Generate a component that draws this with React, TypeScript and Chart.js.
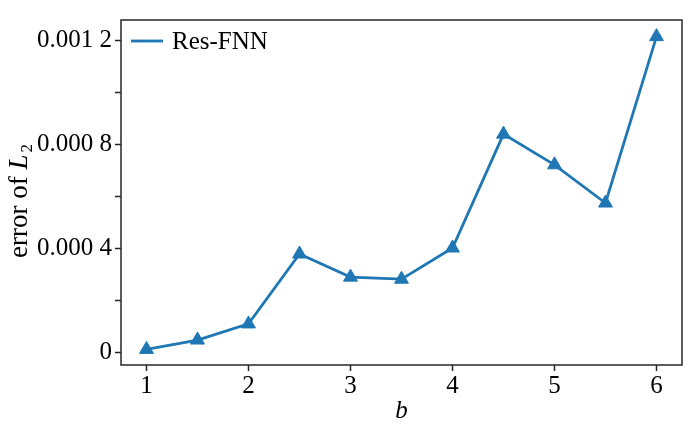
import { useEffect, useRef } from "react";
import Chart from "chart.js/auto";

const bValues = [1, 1.5, 2, 2.5, 3, 3.5, 4, 4.5, 5, 5.5, 6];
const resFnnError = [
  0.00001, 0.000046, 0.000108, 0.000377, 0.000288, 0.00028, 0.0004, 0.000838,
  0.00072, 0.000573, 0.001213,
];

const xTickValues = [1, 2, 3, 4, 5, 6];
const xTickLabels = ["1", "2", "3", "4", "5", "6"];
const yTickValues = [0, 0.0002, 0.0004, 0.0006, 0.0008, 0.001, 0.0012];
const yTickLabels = ["0", "", "0.000 4", "", "0.000 8", "", "0.001 2"];

const seriesLabel = "Res-FNN";
const BLUE = "#1f77b4";
const INK = "#262626";
const FONT = "'Liberation Serif', 'Times New Roman', serif";
const FS = 25;

export default function App() {
  const ref = useRef<HTMLCanvasElement>(null);

  useEffect(() => {
    document.body.style.margin = "0";
    if (!ref.current) return;

    const decorations = {
      id: "decorations",
      afterDraw(chart: Chart) {
        const { ctx, chartArea } = chart;
        const { left, right, top, bottom } = chartArea;
        ctx.save();

        // axes box
        ctx.strokeStyle = INK;
        ctx.lineWidth = 1.5;
        ctx.strokeRect(left, top, right - left, bottom - top);

        // legend
        const ly = top + 21;
        ctx.strokeStyle = BLUE;
        ctx.lineWidth = 2.8;
        ctx.beginPath();
        ctx.moveTo(left + 10, ly);
        ctx.lineTo(left + 42, ly);
        ctx.stroke();
        ctx.fillStyle = "#000";
        ctx.font = `${FS}px ${FONT}`;
        ctx.textBaseline = "middle";
        ctx.textAlign = "left";
        ctx.fillText(seriesLabel, left + 51, ly + 1);

        // y title: error of L_2
        const main = `27px ${FONT}`;
        const ital = `italic 27px ${FONT}`;
        const sub = `17px ${FONT}`;
        ctx.font = main;
        const w1 = ctx.measureText("error of ").width;
        ctx.font = ital;
        const w2 = ctx.measureText("L").width;
        ctx.font = sub;
        const w3 = ctx.measureText("2").width;
        const total = w1 + w2 + w3 + 2;
        ctx.translate(18, 201);
        ctx.rotate(-Math.PI / 2);
        ctx.textBaseline = "alphabetic";
        let x = -total / 2;
        ctx.font = main;
        ctx.fillText("error of ", x, 9);
        x += w1;
        ctx.font = ital;
        ctx.fillText("L", x, 9);
        x += w2 + 2;
        ctx.font = sub;
        ctx.fillText("2", x, 14);
        ctx.restore();
      },
    };

    const chart = new Chart(ref.current, {
      type: "line",
      data: {
        datasets: [
          {
            label: seriesLabel,
            data: bValues.map((b, i) => ({ x: b, y: resFnnError[i] })),
            borderColor: BLUE,
            backgroundColor: BLUE,
            borderWidth: 2.8,
            pointStyle: "triangle",
            pointRadius: 8,
            pointBorderWidth: 1,
            pointBackgroundColor: BLUE,
            pointBorderColor: BLUE,
            tension: 0,
          },
        ],
      },
      options: {
        animation: false,
        responsive: true,
        maintainAspectRatio: false,
        layout: { padding: { top: 20, right: 18, left: 0, bottom: 0 } },
        plugins: {
          legend: { display: false },
          tooltip: { enabled: false },
        },
        scales: {
          x: {
            type: "linear",
            min: 0.75,
            max: 6.25,
            afterBuildTicks: (scale) => {
              scale.ticks = xTickValues.map((v) => ({ value: v }));
            },
            afterFit: (scale) => {
              scale.height = 61;
            },
            grid: {
              drawOnChartArea: false,
              drawTicks: true,
              tickLength: 6,
              tickWidth: 1.5,
              tickColor: INK,
            },
            border: { display: false },
            ticks: {
              color: "#000",
              padding: 0,
              font: { family: FONT, size: FS },
              callback: (v) => xTickLabels[xTickValues.indexOf(Number(v))] ?? "",
            },
            title: {
              display: true,
              text: "b",
              color: "#000",
              padding: { top: -8, bottom: 0 },
              font: { family: FONT, size: FS, style: "italic" },
            },
          },
          y: {
            type: "linear",
            min: -0.00005,
            max: 0.001277,
            afterBuildTicks: (scale) => {
              scale.ticks = yTickValues.map((v) => ({ value: v }));
            },
            afterFit: (scale) => {
              scale.width = 121;
            },
            grid: {
              drawOnChartArea: false,
              drawTicks: true,
              tickLength: 6,
              tickWidth: 1.5,
              tickColor: INK,
            },
            border: { display: false },
            ticks: {
              color: "#000",
              padding: 3,
              font: { family: FONT, size: FS },
              callback: (v) => {
                const i = yTickValues.findIndex((t) => Math.abs(t - Number(v)) < 1e-9);
                return i >= 0 ? yTickLabels[i] : "";
              },
            },
          },
        },
      },
      plugins: [decorations],
    });

    return () => {
      chart.destroy();
    };
  }, [ref]);

  return (
    <div style={{ width: 700, height: 426, position: "relative" }}>
      <canvas ref={ref} />
    </div>
  );
}
